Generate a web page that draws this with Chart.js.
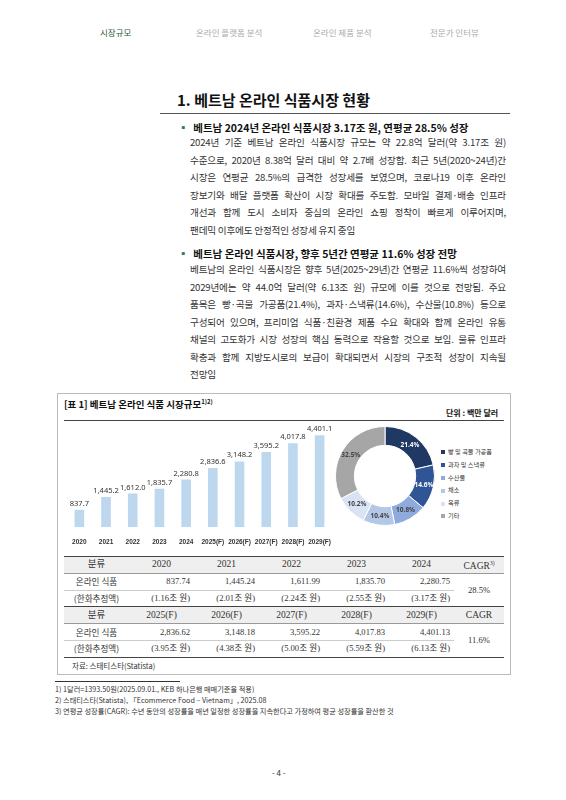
<!DOCTYPE html>
<html><head><meta charset="utf-8">
<script src="https://cdn.jsdelivr.net/npm/chart.js@4"></script>
<style>
body{margin:0;width:566px;height:800px;background:#fff;font-family:"Noto Sans CJK KR","Noto Sans",sans-serif;color:#222;position:relative;overflow:hidden}
.a{position:absolute;white-space:nowrap}
.nav{top:26px;font-size:8.5px;color:#aaa}
.body{font-size:9.6px;line-height:17.6px;color:#333;letter-spacing:-0.2px}
.bul{font-size:10.5px;font-weight:bold;color:#111}
table{border-collapse:collapse;font-family:"Liberation Serif","Noto Sans CJK KR",serif;font-size:8.6px;color:#333;table-layout:fixed}
td{height:15.8px;line-height:11px;padding:0 4px;font-weight:normal}
tr.h td{background:#efefef;text-align:center;font-size:9.5px}
.fn{font-size:7.2px;color:#333;left:55px}
</style></head><body>
<div class="a nav" style="left:100px;color:#2e5a3a">시장규모</div>
<div class="a nav" style="left:196px">온라인 플랫폼 분석</div>
<div class="a nav" style="left:313px">온라인 제품 분석</div>
<div class="a nav" style="left:430px">전문가 인터뷰</div>

<div class="a" style="left:177px;top:89px;font-size:15px;font-weight:bold;color:#111">1. 베트남 온라인 식품시장 현황</div>
<div class="a" style="left:160px;top:113px;width:350px;border-top:1.5px solid #555"></div>
<div class="a bul" style="left:178px;top:120px"><span style="color:#2e7d4f">▪</span>&nbsp; 베트남 2024년 온라인 식품시장 3.17조 원, 연평균 28.5% 성장</div>
<div class="a body" style="left:190px;top:134px;width:316px;white-space:normal;text-align:justify;text-align-last:justify">2024년 기준 베트남 온라인 식품시장 규모는 약 22.8억 달러(약 3.17조 원)<br>수준으로, 2020년 8.38억 달러 대비 약 2.7배 성장함. 최근 5년(2020~24년)간<br>시장은 연평균 28.5%의 급격한 성장세를 보였으며, 코로나19 이후 온라인<br>장보기와 배달 플랫폼 확산이 시장 확대를 주도함. 모바일 결제·배송 인프라<br>개선과 함께 도시 소비자 중심의 온라인 쇼핑 정착이 빠르게 이루어지며,</div>
<div class="a body" style="left:190px;top:222px">팬데믹 이후에도 안정적인 성장세 유지 중임</div>
<div class="a bul" style="left:178px;top:246px"><span style="color:#2e7d4f">▪</span>&nbsp; 베트남 온라인 식품시장, 향후 5년간 연평균 11.6% 성장 전망</div>
<div class="a body" style="left:190px;top:261px;width:316px;white-space:normal;text-align:justify;text-align-last:justify">베트남의 온라인 식품시장은 향후 5년(2025~29년)간 연평균 11.6%씩 성장하여<br>2029년에는 약 44.0억 달러(약 6.13조 원) 규모에 이를 것으로 전망됨. 주요<br>품목은 빵·곡물 가공품(21.4%), 과자·스낵류(14.6%), 수산물(10.8%) 등으로<br>구성되어 있으며, 프리미엄 식품·친환경 제품 수요 확대와 함께 온라인 유통<br>채널의 고도화가 시장 성장의 핵심 동력으로 작용할 것으로 보임. 물류 인프라<br>확충과 함께 지방도시로의 보급이 확대되면서 시장의 구조적 성장이 지속될</div>
<div class="a body" style="left:190px;top:366px">전망임</div>

<div class="a" style="left:57px;top:393px;width:452px;height:280px;border:1px solid #bbb"></div>
<div class="a" style="left:64px;top:397px;font-size:9.5px;font-weight:bold;color:#111">[표 1] 베트남 온라인 식품 시장규모<sup style="font-size:6px">1)2)</sup></div>
<div class="a" style="left:446px;top:407px;font-size:8px;font-weight:bold;color:#111">단위 : 백만 달러</div>
<div class="a" style="left:64px;top:420px;width:440px;border-top:1px solid #444"></div>
<div class="a" style="left:66px;top:424px;width:268px;height:125px"><canvas id="bar"></canvas></div>
<div class="a" style="left:335px;top:426px;width:100px;height:100px"><canvas id="pie"></canvas></div>
<div id="leg" class="a" style="left:441px;top:446px;font-size:6.2px;line-height:12.8px;color:#333"></div>

<div class="a" style="left:64px;top:556px"><table id="tbl" style="width:440px"></table></div>
<div class="a" style="left:72px;top:660px;font-size:7.5px;color:#333">자료: 스태티스타(Statista)</div>

<div class="a" style="left:55px;top:681px;width:125px;border-top:1px solid #333"></div>
<div class="a fn" style="top:684px">1) 1달러=1393.50원(2025.09.01., KEB 하나은행 매매기준율 적용)</div>
<div class="a fn" style="top:695px">2) 스태티스타(Statista), 「Ecommerce Food – Vietnam」, 2025.08</div>
<div class="a fn" style="top:706px">3) 연평균 성장률(CAGR): 수년 동안의 성장률을 매년 일정한 성장률을 지속한다고 가정하여 평균 성장률을 환산한 것</div>
<div class="a" style="left:272px;top:767px;font-size:8px;color:#333">- 4 -</div>

<script>
const years=["2020","2021","2022","2023","2024","2025(F)","2026(F)","2027(F)","2028(F)","2029(F)"];
const marketSize=[837.7,1445.2,1612.0,1835.7,2280.8,2836.6,3148.2,3595.2,4017.8,4401.1];
const shareLabels=["빵 및 곡물 가공품","과자 및 스낵류","수산물","채소","육류","기타"];
const shareValues=[21.4,14.6,10.8,10.4,10.2,32.5];
const shareColors=["#1f3864","#2f5597","#8faadc","#b4c7e7","#dae3f3","#a6a6a6"];
const tblYears1=["2020","2021","2022","2023","2024"];
const tblVal1=["837.74","1,445.24","1,611.99","1,835.70","2,280.75"];
const tblKrw1=["(1.16조 원)","(2.01조 원)","(2.24조 원)","(2.55조 원)","(3.17조 원)"];
const cagr1="28.5%";
const tblYears2=["2025(F)","2026(F)","2027(F)","2028(F)","2029(F)"];
const tblVal2=["2,836.62","3,148.18","3,595.22","4,017.83","4,401.13"];
const tblKrw2=["(3.95조 원)","(4.38조 원)","(5.00조 원)","(5.59조 원)","(6.13조 원)"];
const cagr2="11.6%";

const fmt=v=>v.toLocaleString('en-US',{minimumFractionDigits:1,maximumFractionDigits:1});
const barLabels={id:'bl',afterDatasetsDraw(c){const x=c.ctx;x.save();x.font='7.5px "Noto Sans"';x.fillStyle='#333';x.textAlign='center';
 c.getDatasetMeta(0).data.forEach((b,i)=>x.fillText(fmt(marketSize[i]),b.x,b.y-4));x.restore();}};
new Chart(document.getElementById('bar'),{type:'bar',data:{labels:years,datasets:[{data:marketSize,backgroundColor:'#bdd7ee',barPercentage:0.36,categoryPercentage:1}]},
 options:{responsive:true,maintainAspectRatio:false,animation:false,layout:{padding:{top:6}},plugins:{legend:{display:false},tooltip:{enabled:false}},
 scales:{y:{display:false,min:0,max:4650},x:{grid:{display:false},border:{display:false},ticks:{font:{size:6.5,weight:'bold'},color:'#333',padding:3,maxRotation:0,autoSkip:false}}}},plugins:[barLabels]});

const pieLabels={id:'pl',afterDatasetsDraw(c){const x=c.ctx;x.save();x.font='bold 6.5px "Noto Sans"';x.textAlign='center';x.textBaseline='middle';
 c.getDatasetMeta(0).data.forEach((a,i)=>{const p=a.tooltipPosition();x.fillStyle=i<2?'#fff':'#444';x.fillText(shareValues[i]+'%',p.x,p.y);});x.restore();}};
new Chart(document.getElementById('pie'),{type:'doughnut',data:{labels:shareLabels,datasets:[{data:shareValues,backgroundColor:shareColors,borderColor:'#fff',borderWidth:1}]},
 options:{responsive:true,maintainAspectRatio:false,animation:false,cutout:'62%',plugins:{legend:{display:false},tooltip:{enabled:false}}},plugins:[pieLabels]});

document.getElementById('leg').innerHTML=shareLabels.map((l,i)=>`<div><span style="display:inline-block;width:4px;height:4px;background:${shareColors[i]};margin-right:3px;vertical-align:middle"></span>${l}</div>`).join('');

function rows(yrs,vals,krw,cg,last){
 let h=`<tr class="h" style="border-top:1.5px solid #444;border-bottom:1px solid #999"><td>분류</td>${yrs.map(y=>`<td>${y}</td>`).join('')}<td style="width:42px">${last}</td></tr>`;
 h+=`<tr style="border-bottom:1px solid #ccc"><td style="text-align:center;font-family:'Noto Sans CJK KR'">온라인 식품</td>${vals.map(v=>`<td style="text-align:right">${v}</td>`).join('')}<td rowspan="2" style="text-align:center">${cg}</td></tr>`;
 h+=`<tr style="border-bottom:1.5px solid #444"><td style="text-align:center;font-family:'Noto Sans CJK KR'">(한화추정액)</td>${krw.map(v=>`<td style="text-align:right">${v}</td>`).join('')}</tr>`;
 return h;}
document.getElementById('tbl').innerHTML=rows(tblYears1,tblVal1,tblKrw1,cagr1,'CAGR<sup style="font-size:5.5px">3)</sup>')+rows(tblYears2,tblVal2,tblKrw2,cagr2,'CAGR');
</script>
</body></html>
